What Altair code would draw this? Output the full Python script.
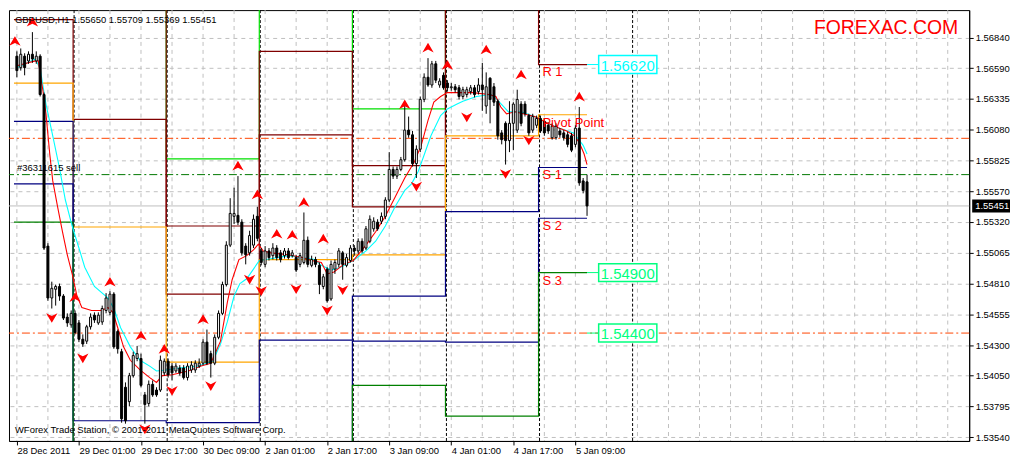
import altair as alt
import pandas as pd

# ---------------- data (prices) ----------------
bar_open = [
1.56689, 1.56594, 1.56689, 1.56650, 1.56705, 1.56650, 1.56689, 1.56372, 1.55119, 1.54690,
1.54762, 1.54785, 1.54706, 1.54532, 1.54468, 1.54563, 1.54484, 1.54349, 1.54333, 1.54452,
1.54548, 1.54484, 1.54492, 1.54587, 1.54571, 1.54722, 1.54413, 1.54246, 1.53952, 1.53833,
1.54048, 1.54190, 1.54190, 1.53889, 1.53818, 1.53976, 1.53929, 1.53929, 1.54071, 1.54167,
1.54127, 1.54087, 1.54111, 1.54111, 1.54032, 1.54095, 1.54095, 1.54127, 1.54151, 1.54325,
1.54230, 1.54151, 1.54365, 1.54563, 1.54801, 1.55127, 1.55365, 1.55373, 1.55317, 1.55119,
1.55063, 1.55127, 1.55365, 1.55079, 1.54968, 1.55079, 1.55040, 1.55103, 1.55063, 1.55040,
1.55079, 1.55040, 1.55024, 1.54968, 1.54984, 1.55167, 1.54960, 1.55008, 1.54960, 1.54785,
1.54929, 1.54682, 1.54929, 1.54968, 1.55063, 1.54960, 1.55000, 1.55103, 1.55079, 1.55159,
1.55103, 1.55159, 1.55262, 1.55317, 1.55325, 1.55365, 1.55500, 1.55753, 1.55698, 1.55753,
1.55833, 1.56078, 1.56039, 1.55801, 1.55920, 1.56332, 1.56515, 1.56451, 1.56626, 1.56451,
1.56531, 1.56467, 1.56428, 1.56436, 1.56428, 1.56356, 1.56372, 1.56396, 1.56428, 1.56396,
1.56451, 1.56277, 1.56507, 1.56436, 1.56317, 1.56055, 1.56134, 1.55991, 1.56134, 1.56078,
1.56293, 1.56293, 1.56198, 1.56078, 1.56118, 1.56174, 1.56150, 1.56118, 1.56015, 1.56015,
1.56071, 1.56055, 1.56039, 1.56031, 1.55960, 1.56094, 1.55658, 1.55650]
bar_high = [
1.56729, 1.56753, 1.56713, 1.56729, 1.56888, 1.56729, 1.56705, 1.56388, 1.55143, 1.54825,
1.54801, 1.54809, 1.54722, 1.54563, 1.54587, 1.54587, 1.54508, 1.54389, 1.54468, 1.54563,
1.54571, 1.54571, 1.54627, 1.54730, 1.54746, 1.54738, 1.54429, 1.54270, 1.53992, 1.54071,
1.54246, 1.54294, 1.54230, 1.53913, 1.54008, 1.54008, 1.53952, 1.54214, 1.54190, 1.54190,
1.54151, 1.54151, 1.54135, 1.54135, 1.54151, 1.54167, 1.54175, 1.54190, 1.54349, 1.54429,
1.54254, 1.54389, 1.54587, 1.54825, 1.55159, 1.55515, 1.55602, 1.55698, 1.55341, 1.55143,
1.55246, 1.55380, 1.55444, 1.55103, 1.55119, 1.55103, 1.55143, 1.55127, 1.55087, 1.55103,
1.55103, 1.55087, 1.55047, 1.55063, 1.55397, 1.55198, 1.55040, 1.55031, 1.54984, 1.54889,
1.54944, 1.55000, 1.55008, 1.55103, 1.55079, 1.55055, 1.55127, 1.55127, 1.55183, 1.55183,
1.55285, 1.55373, 1.55357, 1.55341, 1.55397, 1.55523, 1.55896, 1.55777, 1.55777, 1.55856,
1.56293, 1.56190, 1.56071, 1.55952, 1.56356, 1.56547, 1.56673, 1.56650, 1.56650, 1.56507,
1.56555, 1.56491, 1.56467, 1.56459, 1.56451, 1.56436, 1.56436, 1.56451, 1.56451, 1.56507,
1.56634, 1.56555, 1.56515, 1.56467, 1.56332, 1.56078, 1.56150, 1.56317, 1.56309, 1.56412,
1.56317, 1.56317, 1.56213, 1.56213, 1.56198, 1.56198, 1.56174, 1.56142, 1.56134, 1.56134,
1.56094, 1.56078, 1.56063, 1.56055, 1.56118, 1.56269, 1.55682, 1.55709]
bar_low = [
1.56515, 1.56570, 1.56531, 1.56626, 1.56634, 1.56626, 1.56356, 1.55087, 1.54667, 1.54603,
1.54627, 1.54667, 1.54508, 1.54452, 1.54444, 1.54389, 1.54325, 1.54286, 1.54310, 1.54429,
1.54484, 1.54468, 1.54468, 1.54563, 1.54548, 1.54270, 1.54230, 1.53659, 1.53651, 1.53794,
1.54032, 1.54167, 1.53952, 1.53651, 1.53794, 1.53873, 1.53873, 1.53913, 1.54048, 1.54032,
1.54008, 1.54071, 1.54048, 1.54016, 1.54008, 1.54071, 1.54071, 1.54111, 1.54135, 1.54135,
1.54032, 1.54135, 1.54349, 1.54548, 1.54785, 1.55111, 1.55301, 1.55293, 1.55040, 1.54968,
1.55040, 1.55103, 1.55159, 1.54960, 1.54944, 1.55000, 1.55008, 1.55000, 1.54984, 1.55016,
1.55008, 1.55024, 1.54905, 1.54944, 1.54968, 1.54944, 1.54944, 1.54944, 1.54722, 1.54762,
1.54651, 1.54667, 1.54889, 1.54944, 1.54841, 1.54944, 1.54984, 1.55040, 1.55055, 1.55063,
1.55087, 1.55143, 1.55238, 1.55246, 1.55301, 1.55341, 1.55484, 1.55674, 1.55674, 1.55738,
1.55817, 1.56015, 1.55777, 1.55682, 1.55896, 1.56309, 1.56436, 1.56428, 1.56467, 1.56428,
1.56412, 1.56396, 1.56404, 1.56388, 1.56332, 1.56332, 1.56348, 1.56372, 1.56348, 1.56372,
1.56237, 1.56213, 1.56134, 1.56277, 1.55999, 1.55960, 1.55793, 1.55896, 1.55912, 1.56055,
1.56110, 1.56190, 1.56031, 1.56055, 1.56094, 1.56055, 1.56031, 1.56047, 1.55999, 1.55999,
1.56015, 1.55991, 1.55936, 1.55896, 1.55936, 1.55618, 1.55555, 1.55369]
bar_close = [
1.56570, 1.56705, 1.56594, 1.56705, 1.56666, 1.56689, 1.56372, 1.55103, 1.54690, 1.54770,
1.54785, 1.54706, 1.54524, 1.54484, 1.54563, 1.54405, 1.54349, 1.54310, 1.54452, 1.54532,
1.54508, 1.54548, 1.54603, 1.54690, 1.54722, 1.54286, 1.54270, 1.53691, 1.53675, 1.54048,
1.54214, 1.54230, 1.53968, 1.53810, 1.53976, 1.53889, 1.53889, 1.54175, 1.54167, 1.54056,
1.54071, 1.54127, 1.54071, 1.54032, 1.54127, 1.54135, 1.54151, 1.54151, 1.54325, 1.54151,
1.54151, 1.54365, 1.54563, 1.54801, 1.55127, 1.55389, 1.55389, 1.55317, 1.55063, 1.55047,
1.55206, 1.55341, 1.55183, 1.54984, 1.55079, 1.55024, 1.55103, 1.55024, 1.55008, 1.55079,
1.55024, 1.55063, 1.54921, 1.55040, 1.55167, 1.54968, 1.55008, 1.54968, 1.54801, 1.54865,
1.54667, 1.54968, 1.54984, 1.55079, 1.54968, 1.55024, 1.55103, 1.55079, 1.55159, 1.55079,
1.55262, 1.55341, 1.55325, 1.55262, 1.55365, 1.55500, 1.55753, 1.55698, 1.55753, 1.55833,
1.56078, 1.56039, 1.55801, 1.55920, 1.56332, 1.56515, 1.56451, 1.56626, 1.56491, 1.56483,
1.56428, 1.56428, 1.56436, 1.56412, 1.56356, 1.56412, 1.56412, 1.56428, 1.56372, 1.56451,
1.56412, 1.56436, 1.56332, 1.56309, 1.56031, 1.55999, 1.55991, 1.56134, 1.56293, 1.56332,
1.56134, 1.56213, 1.56055, 1.56190, 1.56174, 1.56071, 1.56055, 1.56071, 1.56110, 1.56110,
1.56039, 1.56015, 1.55960, 1.55912, 1.56094, 1.55642, 1.55579, 1.55451]

# moving averages, sampled along the drawn lines
red_i = [0, 4.75, 5.5, 6.75, 7.5, 8.5, 9.25, 10.5, 11.75, 13, 14.25, 15.5, 16.75, 19.25, 21.75,
         23.5, 24.75, 26, 27.5, 29.25, 31.75, 34.25, 36, 37.5, 40, 44.25, 47.5, 50, 52.5, 54.25,
         55.5, 57.25, 59.25, 61, 62.25, 63.5, 65.5, 70, 73.5, 76, 78.5, 80, 81.75, 84.25, 86.75,
         90, 92.5, 95, 97.5, 100, 102.5, 104.25, 106, 107.5, 109.25, 111, 113.5, 117.5, 121.75,
         123.5, 124.75, 126.25, 128.5, 130.5, 133.5, 136, 138.5, 141.75, 143.75, 145, 146.25, 147]
red_v = [1.56610, 1.56650, 1.56650, 1.56396, 1.56213, 1.55872, 1.55658, 1.55444, 1.55238, 1.55047,
         1.54889, 1.54706, 1.54611, 1.54587, 1.54587, 1.54611, 1.54571, 1.54444, 1.54286, 1.54175,
         1.54095, 1.54032, 1.53992, 1.54048, 1.54056, 1.54087, 1.54127, 1.54151, 1.54333, 1.54651,
         1.54841, 1.55008, 1.55040, 1.55087, 1.55135, 1.55079, 1.55063, 1.55047, 1.55024, 1.55000,
         1.54984, 1.54889, 1.54905, 1.54968, 1.55000, 1.55127, 1.55238, 1.55365, 1.55523, 1.55682,
         1.55817, 1.55952, 1.56158, 1.56309, 1.56356, 1.56388, 1.56388, 1.56388, 1.56372, 1.56356,
         1.56269, 1.56213, 1.56229, 1.56213, 1.56190, 1.56150, 1.56110, 1.56071, 1.56031, 1.55975,
         1.55880, 1.55793]
cyan_i = [0, 4.75, 6, 7.5, 9.25, 11, 12.5, 14.25, 16, 17.5, 20, 23.5, 25, 26.75, 29.25, 31.75,
          34.25, 36, 38.5, 41.75, 46.75, 50.5, 52.5, 54.25, 56, 57.5, 59.25, 61, 62.5, 64.25, 70,
          73.5, 76.75, 78.5, 81, 83.5, 86.75, 90, 92.5, 95, 97.5, 100, 101.75, 103.5, 105, 106.75,
          109.25, 111, 113.5, 115, 118.5, 122.25, 123.75, 126.75, 130, 133.5, 136.75, 140, 143.5,
          146, 147]
cyan_v = [1.56594, 1.56666, 1.56586, 1.56293, 1.56031, 1.55761, 1.55500, 1.55285, 1.55103, 1.54944,
          1.54785, 1.54690, 1.54603, 1.54444, 1.54286, 1.54175, 1.54127, 1.54087, 1.54095, 1.54111,
          1.54127, 1.54167, 1.54310, 1.54492, 1.54706, 1.54809, 1.54849, 1.54929, 1.55000, 1.55008,
          1.55040, 1.55024, 1.55008, 1.54960, 1.54921, 1.54944, 1.55000, 1.55079, 1.55159, 1.55285,
          1.55444, 1.55579, 1.55634, 1.55738, 1.55872, 1.56031, 1.56198, 1.56253, 1.56293, 1.56317,
          1.56356, 1.56372, 1.56332, 1.56229, 1.56229, 1.56190, 1.56134, 1.56094, 1.56055, 1.55952,
          1.55880]

# fractal arrows
up_i = [-0.5, 4, 15, 24, 32, 38, 48, 57, 62, 67, 71, 74, 79, 100, 106, 111, 121, 130, 145]
up_v = [1.56808, 1.56967, 1.54690, 1.54817, 1.54373, 1.54262, 1.54508, 1.55777, 1.55539, 1.55214,
        1.55206, 1.55476, 1.55174, 1.56285, 1.56753, 1.56610, 1.56737, 1.56531, 1.56348]
dn_i = [9, 17, 33, 40, 50, 60, 63, 72, 80, 84, 103, 116, 126, 132]
dn_v = [1.54532, 1.54198, 1.53611, 1.53929, 1.53968, 1.54849, 1.54754, 1.54770, 1.54595, 1.54762,
        1.55618, 1.56190, 1.55722, 1.55999]

# daily pivot levels (one value per trading day)
day_start = [-0.75, 14.5, 38.5, 62.5, 86.5, 110.5, 134.5]
last_bar = 147
lvl_R3 = [1.57900, 1.58300, 1.55840, 1.57450, 1.56253, 1.58000, 1.57500]
lvl_R2 = [1.57450, 1.57600, 1.55285, 1.56729, 1.55785, 1.57450, 1.57120]
lvl_R1 = [1.56991, 1.56166, 1.54722, 1.56039, 1.55444, 1.57100, 1.56620]
lvl_P = [1.56467, 1.55277, 1.54159, 1.55007, 1.55047, 1.56031, 1.56205]
lvl_S1 = [1.56150, 1.53675, 1.53659, 1.54341, 1.54706, 1.55404, 1.55769]
lvl_S2 = [1.55634, 1.53000, 1.53200, 1.53300, 1.54333, 1.54325, 1.55349]
lvl_S3 = [1.55317, 1.52200, 1.52800, 1.52700, 1.53968, 1.53714, 1.54900]

sep_i = [14.75, 38.75, 62.75, 86.75, 110.75, 134.75, 158.75]
hline_price = [1.56010, 1.55710, 1.54400]
bid_price = 1.55451
box_price = [1.56620, 1.54900, 1.54400]
box_text = ["1.56620", "1.54900", "1.54400"]
piv_labels = ["R 1", "Pivot Point", "S 1", "S 2", "S 3"]

xtick_idx = [0, 16, 32, 48, 64, 80, 96, 112, 128, 144]
xtick_lab = ["28 Dec 2011", "29 Dec 01:00", "29 Dec 17:00", "30 Dec 09:00", "2 Jan 01:00",
             "2 Jan 17:00", "3 Jan 09:00", "4 Jan 01:00", "4 Jan 17:00", "5 Jan 09:00"]
ytick_vals = [1.56840, 1.56590, 1.56335, 1.56080, 1.55825, 1.55570, 1.55320, 1.55065,
              1.54810, 1.54555, 1.54300, 1.54050, 1.53795, 1.53540]

# ---------------- build ----------------
W, H = 965, 433
FONT = "Liberation Sans"
AX_FS = 9.5
xs = alt.Scale(domain=[-0.75, 244.25], nice=False, zero=False)
ys = alt.Scale(domain=[1.53508, 1.57070], nice=False, zero=False)

expr = "''"
for v, lab in reversed(list(zip(xtick_idx, xtick_lab))):
    expr = f"datum.value == {v} ? '{lab}' : {expr}"

x_axis = alt.Axis(values=xtick_idx, labelExpr=expr, orient="bottom", grid=False, labelAlign="left",
                  labelFont=FONT, labelFontSize=AX_FS, labelColor="black", tickColor="black",
                  tickSize=4, labelPadding=1, domainColor="black", title=None,
                  labelFlush=False, labelOverlap=False)
y_axis = alt.Axis(values=ytick_vals, format=".5f", orient="right", grid=True, gridColor="#c0c0c0",
                  gridDash=[4, 4], labelFont=FONT, labelFontSize=AX_FS, labelColor="black",
                  tickColor="black", tickSize=4, labelPadding=2, domainColor="black", title=None,
                  labelOverlap=False, labelFlush=False)


def X(f="i"):
    return alt.X(f"{f}:Q", scale=xs, axis=x_axis)


def Y(f):
    return alt.Y(f"{f}:Q", scale=ys, axis=y_axis)


candles = pd.DataFrame({"i": list(range(len(bar_close))), "open": bar_open, "high": bar_high,
                        "low": bar_low, "close": bar_close})
candles["kind"] = ["up" if c >= o else "down" for o, c in zip(bar_open, bar_close)]

layers = []

wicks = (alt.Chart(candles).mark_rule(color="black", strokeWidth=1, clip=True)
         .encode(x=X(), y=Y("low"), y2="high:Q"))
bodies = (alt.Chart(candles).mark_bar(size=2, stroke="black", strokeWidth=1, clip=True)
          .encode(x=X(), y=Y("open"), y2="close:Q",
                  fill=alt.Fill("kind:N", scale=alt.Scale(domain=["up", "down"],
                                                          range=["white", "black"]),
                                legend=None)))

# vertical grid
grid_df = pd.DataFrame({"i": list(range(0, 245, 8))})
layers.append(alt.Chart(grid_df).mark_rule(color="#c0c0c0", strokeDash=[4, 4], strokeWidth=1)
              .encode(x=X()))

# period separators
layers.append(alt.Chart(pd.DataFrame({"i": sep_i})).mark_rule(color="black", strokeDash=[3, 2],
                                                               strokeWidth=1).encode(x=X()))

# bid line
layers.append(alt.Chart(pd.DataFrame({"p": [bid_price]})).mark_rule(color="#c0c0c0", strokeWidth=1)
              .encode(y=Y("p")))

# dash-dot lines
hl_colors = ["#ff4500", "#007800", "#ff4500"]
for p, c in zip(hline_price, hl_colors):
    layers.append(alt.Chart(pd.DataFrame({"p": [p]})).mark_rule(color=c, strokeDash=[8, 3, 2, 3],
                                                                strokeWidth=1).encode(y=Y("p")))

# pivot step lines
lv_names = ["R3", "R2", "R1", "P", "S1", "S2", "S3"]
lv_vals = [lvl_R3, lvl_R2, lvl_R1, lvl_P, lvl_S1, lvl_S2, lvl_S3]
lv_colors = ["#00e000", "#800000", "#800000", "#ffa500", "#000080", "#000080", "#008000"]
rows = []
for n, vals in zip(lv_names, lv_vals):
    for s, v in zip(day_start, vals):
        rows.append({"level": n, "i": s, "p": v})
    rows.append({"level": n, "i": last_bar, "p": vals[-1]})
piv_df = pd.DataFrame(rows)
layers.append(alt.Chart(piv_df).mark_line(interpolate="step-after", strokeWidth=1.2, clip=True)
              .encode(x=X(), y=Y("p"),
                      color=alt.Color("level:N", scale=alt.Scale(domain=lv_names, range=lv_colors),
                                      legend=None),
                      detail="level:N"))

# moving averages
layers.append(alt.Chart(pd.DataFrame({"i": cyan_i, "p": cyan_v}))
              .mark_line(color="#00ffff", strokeWidth=1.1, clip=True).encode(x=X(), y=Y("p")))
layers.append(alt.Chart(pd.DataFrame({"i": red_i, "p": red_v}))
              .mark_line(color="#ff0000", strokeWidth=1.1, clip=True).encode(x=X(), y=Y("p")))

layers.append(wicks)
layers.append(bodies)

# fractal arrows
up_path = "M0,-1L1,0.7L0,0.2L-1,0.7Z"
dn_path = "M0,1L1,-0.7L0,-0.2L-1,-0.7Z"
layers.append(alt.Chart(pd.DataFrame({"i": up_i, "p": up_v}))
              .mark_point(shape=up_path, filled=True, color="#ff0000", size=130, opacity=1, clip=True)
              .encode(x=X(), y=Y("p")))
layers.append(alt.Chart(pd.DataFrame({"i": dn_i, "p": dn_v}))
              .mark_point(shape=dn_path, filled=True, color="#ff0000", size=130, opacity=1, clip=True)
              .encode(x=X(), y=Y("p")))

# pivot labels for the last day
lab_df = pd.DataFrame({"i": [day_start[-1] + 1] * 5, "p": [lvl_R1[-1], lvl_P[-1], lvl_S1[-1],
                                                            lvl_S2[-1], lvl_S3[-1]],
                       "t": piv_labels})
layers.append(alt.Chart(lab_df).mark_text(align="left", baseline="middle", dy=8, font=FONT,
                                          fontSize=13, color="#ff0000")
              .encode(x=X(), y=Y("p"), text="t:N"))

# price boxes with connectors
box_cols = ["#00ffff", "#00ff7f", "#00ff7f"]
for p, t, c in zip(box_price, box_text, box_cols):
    d = pd.DataFrame({"a": [last_bar], "b": [150], "c": [165], "m": [157.5], "p": [p], "t": [t]})
    layers.append(alt.Chart(d).mark_rule(color=c, strokeWidth=1)
                  .encode(x=X("a"), x2="b:Q", y=Y("p")))
    layers.append(alt.Chart(d).mark_rect(fill="white", stroke=c, strokeWidth=1.5,
                                         yOffset=-9, y2Offset=9)
                  .encode(x=X("b"), x2="c:Q", y=Y("p"), y2="p:Q"))
    layers.append(alt.Chart(d).mark_text(align="center", baseline="middle", font=FONT,
                                         fontSize=15, color=c, dy=1)
                  .encode(x=X("m"), y=Y("p"), text="t:N"))

# current price tag on the axis
bid_df = pd.DataFrame({"p": [bid_price], "t": [f"{bid_price:.5f}"]})
layers.append(alt.Chart(bid_df).mark_rect(fill="black", clip=False, yOffset=-6.5, y2Offset=6.5)
              .encode(x=alt.value(W + 3), x2=alt.value(W + 41), y=Y("p"), y2="p:Q"))
layers.append(alt.Chart(bid_df).mark_text(align="left", baseline="middle", font=FONT,
                                          fontSize=AX_FS, color="white", clip=False)
              .encode(x=alt.value(W + 6), y=Y("p"), text="t:N"))


# free texts
def free_text(t, x, y, size, color, align="left"):
    return (alt.Chart(pd.DataFrame({"t": [t]}))
            .mark_text(align=align, baseline="middle", font=FONT, fontSize=size, color=color)
            .encode(x=alt.value(x), y=alt.value(y), text="t:N"))


layers.append(free_text("GBPUSD,H1  1.55650 1.55709 1.55369 1.55451", 6, 10, 9.5, "black"))
layers.append(free_text("FOREXAC.COM", 954, 18, 19.5, "#ff0000", align="right"))
layers.append(free_text("#36311615 sell", 8, 159, 9.5, "black"))
layers.append(free_text("WForex Trade Station, \u00a9 2001-2011 MetaQuotes Software Corp.",
                        6, 422, 9.5, "black"))

chart = (alt.layer(*layers)
         .properties(width=W, height=H, padding=0, background="white")
         .configure_view(stroke="black", strokeWidth=1))

chart.save("out.html", embed_options={"renderer": "svg", "actions": False})
